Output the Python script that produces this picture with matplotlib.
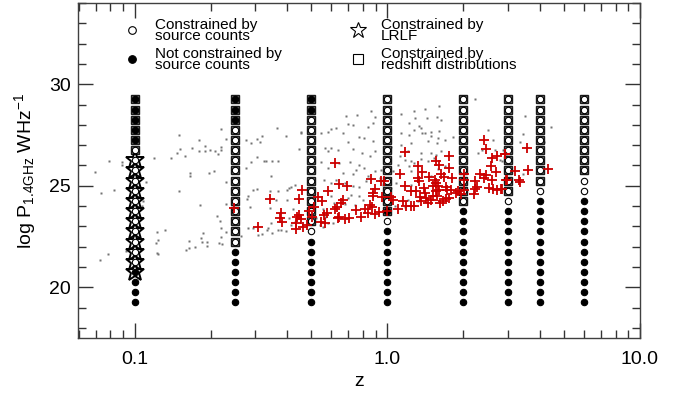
import numpy as np
import matplotlib
matplotlib.use("Agg")
import matplotlib.pyplot as plt
from matplotlib.lines import Line2D
from matplotlib.ticker import MultipleLocator, FixedLocator, FixedFormatter, LogLocator, NullFormatter

plt.rcParams['font.family'] = ['Liberation Sans', 'DejaVu Sans']
plt.rcParams['mathtext.fontset'] = 'custom'
plt.rcParams['mathtext.rm'] = 'Liberation Sans'
plt.rcParams['mathtext.it'] = 'Liberation Sans:italic'

# grid of redshift columns and power levels
col_z = [0.1, 0.25, 0.5, 1.0, 2.0, 3.0, 4.0, 6.0]
logp_grid = [19.25, 19.75, 20.25, 20.75, 21.25, 21.75, 22.25, 22.75, 23.25, 23.75,
             24.25, 24.75, 25.25, 25.75, 26.25, 26.75, 27.25, 27.75, 28.25, 28.75, 29.25]
# per column, bottom -> top
# f filled, o open, S open+square, F filled+square, s open+star, t filled+star
col_codes = [
    "ffftsssssssssssSFFFFF",
    "ffffffSSSSSSSSSSSSFFF",
    "fffffffoSSSSSSSSSSSFF",
    "ffffffffoFSSSSSSSSSSS",
    "ffffffffffSSSSSSSSSSS",
    "ffffffffffoSSSSSSSSSS",
    "fffffffffffoSSSSSSSSS",
    "fffffffffffooSSSSSSSS",
]

# red crosses (log10 z, log P)
red_logz = [-0.206, -0.064, -0.192, -0.159, -0.051, -0.056, -0.056, -0.236, -0.340, -0.349,
            -0.467, -0.276, -0.258, -0.177, -0.186, -0.198, -0.207, -0.124, -0.088, -0.071,
            -0.077, -0.051, -0.104, -0.062, -0.291, -0.309, -0.298, -0.253, -0.240, -0.265,
            -0.247, -0.190, -0.196, -0.170, -0.154, -0.421, -0.425, -0.418, -0.351, -0.357,
            -0.342, -0.363, -0.361, -0.334, -0.320, -0.511, -0.608,
            0.070, 0.242, 0.192, 0.205, 0.243, 0.122, 0.136, 0.049, 0.119, 0.124,
            0.163, 0.189, 0.213, 0.223, 0.194, 0.255, 0.068, 0.095, 0.112, 0.145,
            0.147, 0.180, 0.200, 0.192, 0.205, 0.230, 0.235, 0.270, 0.279, -0.025,
            -0.012, 0.015, -0.022, 0.021, -0.001, -0.035, 0.041, 0.061, 0.074, 0.094,
            0.105, 0.127, 0.131, 0.153, 0.160, 0.171, 0.180, 0.197, 0.209, 0.218,
            0.231, 0.242, 0.250, 0.342, 0.345, 0.353, 0.346, 0.366, 0.384, 0.391,
            0.415, 0.404, 0.435, 0.419, 0.448, 0.431, 0.411, 0.413, 0.433, 0.384,
            0.392, 0.464, 0.472, 0.305, 0.303, 0.303, 0.292,
            0.554, 0.465, 0.505, 0.556, 0.634, 0.469, 0.522, 0.525, 0.452]
red_logp = [26.12, 25.33, 25.10, 24.97, 24.84, 24.65, 24.48, 24.76, 24.81, 24.35,
            24.37, 24.45, 24.24, 24.29, 24.15, 23.96, 23.86, 23.78, 23.83, 24.07,
            23.66, 23.60, 23.47, 23.96, 23.96, 23.75, 23.47, 23.58, 23.66, 23.21,
            23.17, 23.47, 23.40, 23.37, 23.40, 23.66, 23.39, 23.21, 23.58, 23.47,
            23.37, 23.14, 22.88, 22.98, 23.09, 22.96, 23.91,
            26.64, 26.44, 26.20, 26.03, 25.89, 25.95, 25.66, 25.56, 25.36, 25.25,
            25.41, 25.30, 25.56, 25.41, 25.13, 25.36, 25.00, 24.74, 24.74, 24.87,
            24.64, 24.97, 25.00, 24.73, 24.78, 24.94, 24.81, 24.64, 24.73, 25.22,
            25.22, 24.45, 24.45, 24.32, 23.75, 23.73, 23.83, 24.24, 24.02, 23.99,
            24.02, 24.45, 24.24, 24.42, 24.15, 24.32, 24.48, 24.48, 24.15, 24.24,
            24.35, 24.38, 24.78, 24.60, 24.84, 24.94, 25.25, 25.59, 25.36, 25.53,
            25.30, 24.89, 24.81, 24.84, 24.84, 25.67, 25.98, 26.36, 26.47, 27.26,
            26.80, 26.55, 25.30, 25.59, 25.30, 24.81, 24.60,
            26.88, 26.56, 25.74, 25.79, 25.84, 25.26, 25.26, 25.17, 24.84]

# grey dots (log10 z, log P)
grey_logz = [-0.661, -0.827, -0.748, -0.640, -0.724, -0.773, -0.822, -0.748, -0.724, -0.702,
             -0.682, -0.661, -0.660, -0.833, -0.800, -0.925, -0.856, -0.672, -1.101, -1.050,
             -1.050, -1.160, -0.780, -0.780, -0.707, -0.685, -0.641, -0.955, -1.081, -1.136,
             -0.827, -0.969, -0.971, -0.742, -0.641, -0.674, -0.662, -0.661, -0.880, -0.913,
             -0.732, -0.738, -0.661, -0.641, -0.784, -0.735, -0.714, -0.668, -0.656, -0.917,
             -0.910, -0.764, -0.784, -0.796, -0.714, -0.913, -0.909, -1.035, -1.105, -1.139,
             -0.437, -0.401, -0.496, -0.518, -0.559, -0.540, -0.505, -0.344, -0.351, -0.342,
             -0.516, -0.489, -0.480, -0.434, -0.456, -0.540, -0.559, -0.463, -0.368, -0.381,
             -0.390, -0.397, -0.434, -0.467, -0.516, -0.533, -0.553, -0.557, -0.546, -0.397,
             -0.441, -0.467, -0.460, -0.474, -0.458, -0.476, -0.434, -0.421, -0.400, -0.497,
             -0.511, -0.533, -0.553, -0.579, -0.375, -0.388, -0.381, -0.368, -0.361,
             -0.163, -0.120, -0.064, -0.051, -0.137, -0.157, -0.058, -0.078, -0.223, -0.203,
             -0.265, -0.236, -0.177, -0.111, -0.091, -0.058, -0.157, -0.249, -0.223, -0.194,
             -0.236, -0.137, -0.099, -0.049, -0.071, -0.262, -0.190, -0.150, -0.111, -0.091,
             -0.124, -0.051, -0.236, -0.177, -0.137, -0.203, -0.252, -0.223, -0.170, -0.137,
             -0.111, -0.078, -0.084, -0.144, -0.111, -0.256, -0.210, -0.170, -0.130, -0.097,
             -0.157, -0.223, -0.236, -0.216, -0.256, -0.269, -0.249, -0.282,
             0.105, 0.147, 0.204, 0.054, 0.110, 0.157, 0.210, 0.197, 0.087, 0.123,
             0.131, 0.107, 0.173, 0.206, 0.147, 0.054, 0.087, 0.136, 0.173, 0.202,
             0.226, 0.259, 0.052, 0.094, 0.160, 0.197, 0.015, 0.083, 0.131, 0.173,
             0.213, 0.193, 0.048, 0.068, 0.094, 0.107, 0.134, 0.160, 0.186, 0.041,
             0.087, 0.200, 0.226, 0.021, -0.027, 0.094, -0.031, -0.018, 0.035, 0.015,
             0.094, 0.173, 0.081, 0.120, 0.028, 0.068, 0.358, 0.374, 0.424, 0.457,
             0.417, 0.398, 0.444, 0.470, 0.347,
             0.545, 0.646, 0.535, 0.525, 0.620, 0.452, 0.538]
grey_logp = [27.80, 27.50, 27.23, 27.29, 26.98, 26.88, 26.80, 26.73, 26.73, 26.77,
             26.70, 26.77, 26.93, 26.60, 26.47, 26.39, 26.36, 26.55, 26.23, 26.15,
             26.03, 25.70, 25.62, 25.46, 25.62, 25.74, 25.17, 25.20, 24.81, 24.64,
             24.76, 24.23, 24.02, 24.04, 24.12, 23.53, 23.28, 22.93, 22.83, 22.73,
             22.65, 22.43, 22.47, 22.73, 22.30, 22.22, 22.22, 22.16, 22.14, 22.19,
             22.35, 21.98, 21.91, 21.85, 22.03, 21.67, 21.62, 21.77, 21.65, 21.36,
             27.83, 27.45, 27.45, 27.29, 27.26, 27.10, 27.13, 27.59, 26.80, 27.67,
             26.41, 26.23, 26.20, 26.20, 26.20, 26.15, 25.87, 25.46, 25.05, 24.94,
             24.89, 24.81, 24.73, 24.73, 24.84, 24.81, 24.48, 24.35, 23.96, 24.32,
             24.32, 23.89, 23.17, 22.93, 22.68, 22.80, 22.80, 22.80, 22.77, 22.60,
             22.55, 22.93, 22.93, 22.52, 23.83, 23.42, 23.09, 23.21, 23.30,
             28.45, 28.50, 28.68, 28.40, 27.99, 28.04, 28.11, 27.91, 27.78, 27.86,
             27.59, 27.67, 27.59, 27.42, 27.34, 27.18, 27.13, 26.85, 26.85, 26.74,
             26.69, 26.80, 26.60, 26.69, 26.47, 26.15, 26.12, 26.15, 26.03, 25.87,
             25.79, 25.71, 25.87, 25.62, 25.59, 25.30, 25.30, 25.13, 25.13, 25.00,
             24.94, 25.46, 25.22, 24.56, 24.48, 23.83, 24.15, 24.12, 24.07, 24.32,
             24.40, 24.51, 23.17, 23.14, 22.99, 23.09, 23.47, 23.42,
             28.69, 28.76, 28.92, 28.53, 28.32, 28.32, 28.24, 28.40, 28.08, 27.94,
             27.83, 27.75, 27.67, 27.72, 27.62, 27.62, 27.50, 27.59, 27.45, 27.34,
             27.26, 27.42, 27.01, 27.10, 27.18, 27.10, 26.93, 26.69, 26.60, 26.60,
             26.69, 26.52, 26.44, 26.28, 26.20, 26.12, 26.31, 26.20, 26.36, 26.03,
             25.95, 25.82, 25.95, 25.71, 25.79, 25.71, 25.38, 25.05, 25.13, 24.89,
             25.05, 25.46, 24.32, 24.24, 23.99, 23.96, 26.60, 26.77, 26.77, 26.77,
             27.26, 27.75, 26.28, 26.44, 29.25,
             28.43, 27.91, 27.53, 27.13, 27.13, 26.24, 25.59]

legend_labels = ["Constrained by\nsource counts", "Not constrained by\nsource counts",
                 "Constrained by\nLRLF", "Constrained by\nredshift distributions"]

# split the grid into marker groups
sq_z, sq_p, st_z, st_p, op_z, op_p, fi_z, fi_p = [], [], [], [], [], [], [], []
for z, codes in zip(col_z, col_codes):
    for p, c in zip(logp_grid, codes):
        if c in "SF":
            sq_z.append(z); sq_p.append(p)
        if c in "st":
            st_z.append(z); st_p.append(p)
        if c in "fFt":
            fi_z.append(z); fi_p.append(p)
        else:
            op_z.append(z); op_p.append(p)

fig = plt.figure(figsize=(6.87, 3.94), dpi=100)
ax = fig.add_axes([78/687, 1 - 338/394, 562/687, 335/394])

ax.plot(10 ** np.array(grey_logz), grey_logp, ls='none', marker='s', ms=1.5,
        mfc='0.45', mec='none', zorder=1)
ax.plot(sq_z, sq_p, ls='none', marker='s', ms=6.0, mfc='0.45', mec='0.1', mew=1.0, zorder=2)
ax.plot(st_z, st_p, ls='none', marker='*', ms=14, mfc='none', mec='black', mew=1.4, zorder=2)
ax.plot(op_z, op_p, ls='none', marker='o', ms=4.6, mfc='white', mec='black', mew=0.8, zorder=3)
ax.plot(fi_z, fi_p, ls='none', marker='o', ms=4.6, mfc='black', mec='black', mew=0.8, zorder=3)
ax.plot(10 ** np.array(red_logz), red_logp, ls='none', marker='+', ms=6.5, mew=1.3,
        color='#cc0000', zorder=4)

ax.set_xscale('log')
ax.set_xlim(0.0595, 10)
ax.set_ylim(17.5, 34)
ax.xaxis.set_major_locator(FixedLocator([0.1, 1.0, 10.0]))
ax.xaxis.set_major_formatter(FixedFormatter(["0.1", "1.0", "10.0"]))
ax.xaxis.set_minor_locator(LogLocator(base=10, subs=np.arange(2, 10)))
ax.xaxis.set_minor_formatter(NullFormatter())
ax.yaxis.set_major_locator(MultipleLocator(5))
ax.yaxis.set_minor_locator(MultipleLocator(1))

for s in ax.spines.values():
    s.set_color('0.25')
    s.set_linewidth(1.0)
ax.tick_params(which='both', direction='in', top=True, right=True, color='0.2', width=1.0)
ax.tick_params(which='major', length=11, labelsize=14)
ax.tick_params(which='minor', length=5.5)
ax.tick_params(axis='x', which='major', pad=9)
ax.tick_params(axis='y', which='major', pad=5)

ax.set_xlabel("z", fontsize=14, labelpad=4)
ax.set_ylabel(r"log P$_{\rm 1.4GHz}$ WHz$^{-1}$", fontsize=14, labelpad=8)

handles = [
    Line2D([], [], ls='none', marker='o', ms=5.5, mfc='white', mec='black', mew=0.8),
    Line2D([], [], ls='none', marker='o', ms=5.5, mfc='black', mec='black', mew=0.8),
    Line2D([], [], ls='none', marker='*', ms=12, mfc='white', mec='black', mew=0.8),
    Line2D([], [], ls='none', marker='s', ms=6.5, mfc='white', mec='black', mew=0.8),
]
leg = ax.legend(handles, legend_labels, ncol=2, loc='upper left', bbox_to_anchor=(0.082, 0.956),
                frameon=False, fontsize=11, handlelength=1.0, handletextpad=1.0,
                columnspacing=4.5, labelspacing=0.25, borderpad=0, borderaxespad=0)
for t in leg.get_texts():
    t.set_linespacing(0.73)

fig.savefig("out.png", dpi=100)
